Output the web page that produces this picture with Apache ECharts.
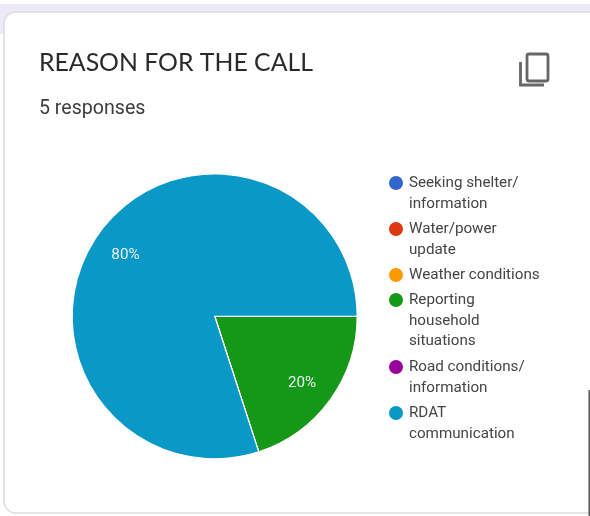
<!DOCTYPE html>
<html><head><meta charset="utf-8">
<style>html,body{margin:0;padding:0;background:#fff}#c{width:590px;height:516px}</style>
<script src="https://cdn.jsdelivr.net/npm/echarts@6/dist/echarts.min.js"></script>
</head><body><div id="c"></div>
<script>
const titleText = "REASON FOR THE CALL";
const subtitleText = "5 responses";
const categories = ["Seeking shelter/\ninformation","Water/power\nupdate","Weather conditions","Reporting\nhousehold\nsituations","Road conditions/\ninformation","RDAT\ncommunication"];
const values = [0,0,0,1,0,4];
const colors = ["#3366cc","#dc3912","#ff9900","#159818","#990099","#0a98c6"];
const legendIconCentres = [183,229,275,300,367,413];
const L = 20.7;

const chart = echarts.init(document.getElementById('c'), null, {renderer:'canvas'});
const legends = categories.map((name,i)=>{
  const n = name.split("\n").length;
  return {
    data:[name], left:387, top: legendIconCentres[i]-(2*n-1)*L/2, padding:0,
    orient:'vertical', icon:'circle', itemWidth:16, itemHeight:16, itemGap:0,
    selectedMode:false,
    formatter:nm=>"\n".repeat(n-1)+nm,
    textStyle:{fontFamily:'Roboto',fontSize:15.2,color:'#444',lineHeight:L}
  };
});
chart.setOption({
  animation:false,
  backgroundColor:'#fff',
  color:colors,
  title:[
    {text:titleText,left:39,top:51,padding:0,textStyle:{fontFamily:'Lato',fontWeight:'normal',fontSize:24.8,color:'#2a2a2a'}},
    {text:subtitleText,left:39,top:99,padding:0,textStyle:{fontFamily:'Roboto',fontWeight:'normal',fontSize:19.6,color:'#3c3c3c'}}
  ],
  legend:legends,
  series:[{
    type:'pie',center:[214.7,316.3],radius:[0,142.5],startAngle:0,clockwise:true,
    data:categories.map((name,i)=>({name,value:values[i]})),
    itemStyle:{borderColor:'#fff',borderWidth:1.2},
    label:{show:true,position:'inside',formatter:p=>p.value>0?Math.round(p.percent)+'%':'',fontFamily:'Roboto',fontSize:15.2,color:'#e8f2f5'},
    labelLayout:p=>{
      const cx=p.labelRect.x+p.labelRect.width/2, cy=p.labelRect.y+p.labelRect.height/2;
      return {dx:(cx-215)*0.47-0.8, dy:(cy-316)*0.47+2.5};
    },
    labelLine:{show:false},
    emphasis:{disabled:true},
    silent:true
  }],
  graphic:[
    {type:'rect',z:-10,shape:{x:0,y:4,width:590,height:30},style:{fill:'#ede9f7'}},
    {type:'rect',z:-9,shape:{x:4,y:12,width:600,height:501,r:12},style:{fill:'#fff',stroke:'#dcdbe2',lineWidth:1.5}},
    {type:'line',z:-8,shape:{x1:589.2,y1:390,x2:589.2,y2:516},style:{stroke:'#555',lineWidth:1.5}},
    {type:'rect',shape:{x:527,y:54,width:21,height:27,r:2},style:{fill:'none',stroke:'#666',lineWidth:2.8}},
    {type:'polyline',shape:{points:[[520.5,62],[520.5,85],[544,85]]},style:{fill:'none',stroke:'#666',lineWidth:2.8}}
  ]
});
</script></body></html>
